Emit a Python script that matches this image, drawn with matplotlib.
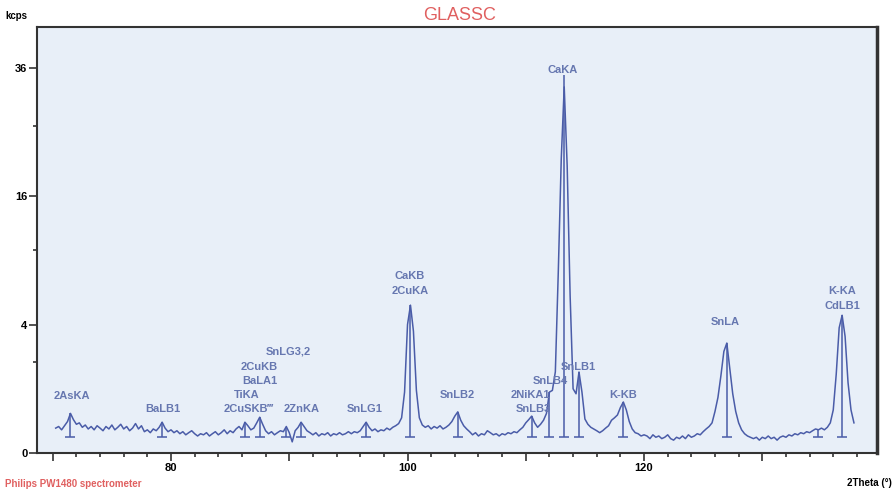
import numpy as np
import matplotlib
matplotlib.use("Agg")
import matplotlib.pyplot as plt
from matplotlib.ticker import FixedLocator, MultipleLocator, FuncFormatter

# scan positions (2Theta, deg) and counts (kcps)
two_theta = np.arange(70.25, 137.76, 0.25)

kcps = [
    # 70.25 - 75.0
    0.15, 0.17, 0.13, 0.18, 0.24, 0.38, 0.27, 0.20, 0.22, 0.16,
    0.19, 0.14, 0.17, 0.13, 0.18, 0.15, 0.12, 0.17, 0.14, 0.19,
    # 75.25 - 80.0
    0.13, 0.16, 0.20, 0.14, 0.17, 0.12, 0.15, 0.21, 0.14, 0.18,
    0.11, 0.13, 0.10, 0.14, 0.12, 0.16, 0.23, 0.15, 0.11, 0.13,
    # 80.25 - 85.0
    0.10, 0.12, 0.09, 0.11, 0.08, 0.10, 0.12, 0.09, 0.07, 0.09,
    0.08, 0.10, 0.07, 0.09, 0.11, 0.08, 0.10, 0.13, 0.09, 0.12,
    # 85.25 - 90.0
    0.10, 0.14, 0.17, 0.13, 0.23, 0.18, 0.13, 0.15, 0.22, 0.31,
    0.20, 0.12, 0.09, 0.11, 0.08, 0.10, 0.12, 0.11, 0.17, 0.10,
    # 90.25 - 95.0
    0.03, 0.12, 0.16, 0.23, 0.17, 0.12, 0.10, 0.08, 0.10, 0.07,
    0.09, 0.08, 0.10, 0.07, 0.09, 0.08, 0.10, 0.08, 0.09, 0.11,
    # 95.25 - 100.0
    0.09, 0.11, 0.10, 0.12, 0.17, 0.23, 0.16, 0.12, 0.14, 0.11,
    0.13, 0.12, 0.15, 0.13, 0.16, 0.18, 0.21, 0.30, 0.90, 4.00,
    # 100.25 - 105.0
    5.30, 3.60, 0.95, 0.30, 0.19, 0.16, 0.18, 0.14, 0.17, 0.15,
    0.18, 0.14, 0.16, 0.19, 0.24, 0.33, 0.41, 0.26, 0.18, 0.14,
    # 105.25 - 110.0
    0.11, 0.08, 0.10, 0.07, 0.09, 0.08, 0.12, 0.10, 0.08, 0.09,
    0.07, 0.09, 0.08, 0.10, 0.09, 0.11, 0.10, 0.13, 0.16, 0.22,
    # 110.25 - 115.0
    0.27, 0.33, 0.22, 0.16, 0.20, 0.26, 0.38, 0.90, 0.95, 1.60,
    8.00, 21.0, 32.5, 20.0, 6.00, 1.00, 0.85, 1.59, 0.90, 0.28,
    # 115.25 - 120.0
    0.20, 0.16, 0.14, 0.12, 0.10, 0.12, 0.15, 0.18, 0.26, 0.30,
    0.35, 0.50, 0.63, 0.45, 0.24, 0.14, 0.10, 0.09, 0.07, 0.08,
    # 120.25 - 125.0
    0.07, 0.05, 0.08, 0.06, 0.07, 0.05, 0.06, 0.08, 0.05, 0.04,
    0.06, 0.05, 0.07, 0.05, 0.08, 0.06, 0.07, 0.09, 0.08, 0.11,
    # 125.25 - 130.0
    0.14, 0.17, 0.22, 0.42, 0.75, 1.45, 2.50, 2.93, 1.75, 0.85,
    0.42, 0.22, 0.13, 0.09, 0.07, 0.06, 0.05, 0.06, 0.04, 0.06,
    # 130.25 - 135.0
    0.05, 0.07, 0.05, 0.06, 0.04, 0.06, 0.07, 0.06, 0.08, 0.07,
    0.09, 0.08, 0.10, 0.09, 0.11, 0.10, 0.12, 0.14, 0.13, 0.15,
    # 135.25 - 137.75
    0.13, 0.16, 0.22, 0.45, 1.50, 3.80, 4.60, 3.30, 1.20, 0.45,
    0.22,
]

# peak markers (position, top)
peak_pos = [71.5, 79.25, 86.25, 87.5, 89.75, 91.0, 96.5, 100.25, 104.25,
            110.5, 112.0, 113.25, 114.5, 118.25, 127.0, 134.75, 136.75]
peak_top = [0.38, 0.23, 0.23, 0.31, 0.17, 0.23, 0.23, 5.30, 0.41,
            0.33, 0.90, 34.7, 1.59, 0.63, 2.93, 0.13, 4.60]
marker_base = 0.06

# line labels
label_text = ["2AsKA", "BaLB1", "2CuSKB\u2034", "TiKA", "BaLA1", "2CuKB", "SnLG3,2",
              "2ZnKA", "SnLG1", "CaKB", "2CuKA", "SnLB2", "2NiKA1", "SnLB3",
              "SnLB4", "SnLB1", "K-KB", "CaKA", "SnLA", "K-KA", "CdLB1"]
label_x = [71.63, 79.32, 86.6, 86.43, 87.53, 87.44, 89.89,
           91.08, 96.41, 100.21, 100.21, 104.19, 110.36, 110.61,
           112.05, 114.42, 118.22, 113.1, 126.85, 136.74, 136.74]
label_y = [0.79, 0.47, 0.47, 0.81, 1.25, 1.79, 2.52,
           0.47, 0.47, 7.6, 6.35, 0.81, 0.81, 0.47,
           1.25, 1.79, 0.81, 35.6, 4.15, 6.35, 5.23]

line_col = "#4a5ca8"
label_col = "#6677b0"
red = "#e06060"
plt.rcParams["font.family"] = ["Liberation Sans", "DejaVu Sans"]

fig = plt.figure(figsize=(8.94, 4.92), dpi=100)
ax = fig.add_axes([0.0414, 0.0793, 0.9396, 0.8657])
ax.set_facecolor("#e8eff8")

ax.set_yscale("function", functions=(lambda v: np.sqrt(np.clip(v, 0, None)),
                                      lambda v: np.square(v)))

ax.plot(two_theta, kcps, color=line_col, lw=1.1)
ax.vlines(peak_pos, marker_base, peak_top, color=line_col, lw=1.1)
ax.plot(peak_pos, [marker_base] * len(peak_pos), ls="none", marker="_",
        ms=7, mew=1.1, color=line_col)

for t, x, y in zip(label_text, label_x, label_y):
    ax.text(x, y, t, ha="center", va="center", fontsize=8, fontweight="bold",
            color=label_col)

ax.set_xlim(68.67, 139.7)
ax.set_ylim(0, 44)

ax.yaxis.set_major_locator(FixedLocator([0, 4, 16, 36]))
ax.yaxis.set_minor_locator(FixedLocator([2, 10, 26]))
ax.yaxis.set_major_formatter(FuncFormatter(lambda v, p: f"{v:g}"))
ax.yaxis.set_minor_formatter(FuncFormatter(lambda v, p: ""))
ax.xaxis.set_major_locator(MultipleLocator(10))
ax.xaxis.set_minor_locator(MultipleLocator(2))
ax.xaxis.set_major_formatter(FuncFormatter(lambda v, p: f"{v:g}" if v % 20 == 0 else ""))

ax.tick_params(axis="both", which="major", length=6, width=1.2, color="#333333",
               labelsize=8, pad=1)
ax.tick_params(axis="both", which="minor", length=3, width=1.2, color="#333333")
for lab in ax.get_xticklabels() + ax.get_yticklabels():
    lab.set_fontweight("bold")

for s in ax.spines.values():
    s.set_linewidth(1.5)
    s.set_color("#333333")
ax.spines["right"].set_linewidth(2.5)

fig.text(0.514, 0.968, "GLASSC", ha="center", va="center", fontsize=13, color=red)
fig.text(0.006, 0.968, "kcps", ha="left", va="center", fontsize=7, fontweight="bold")
fig.text(0.998, 0.018, "2Theta (\u00b0)", ha="right", va="center", fontsize=7,
         fontweight="bold")
fig.text(0.006, 0.016, "Philips PW1480 spectrometer", ha="left", va="center",
         fontsize=7, fontweight="bold", color=red)

fig.savefig("out.png", dpi=100)
